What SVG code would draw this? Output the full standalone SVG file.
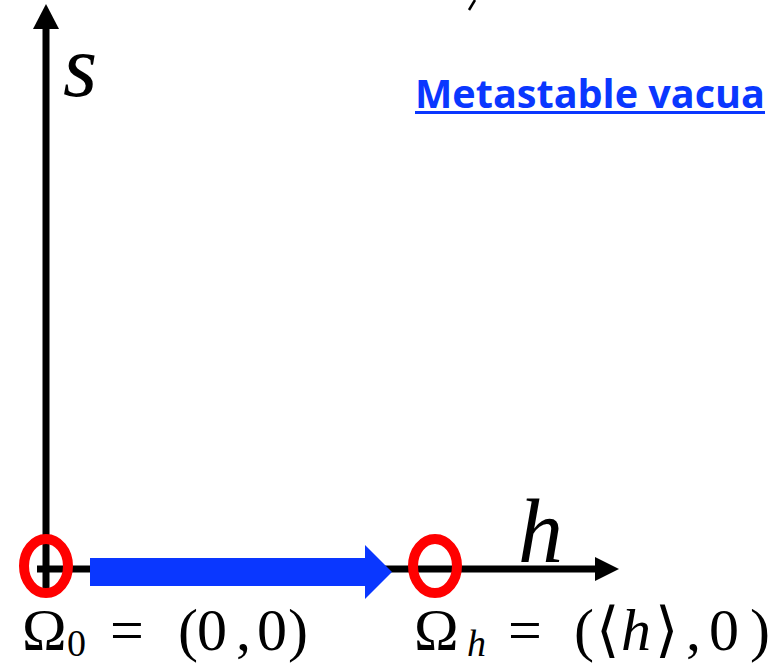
<svg xmlns="http://www.w3.org/2000/svg" width="774" height="666" viewBox="0 0 774 666">
<style>
.ax{stroke:#000;stroke-width:7;fill:none}
.vac{fill:none;stroke:#ff0000;stroke-width:10}
.m{font-family:"Liberation Serif","DejaVu Serif",serif;fill:#000}
.mi{font-family:"Liberation Serif","DejaVu Serif",serif;font-style:italic;fill:#000}
.title{font-family:"Open Sans","Liberation Sans",sans-serif;font-weight:bold;fill:#0a37ff}
</style>
<rect width="774" height="666" fill="#fff"/>
<g id="connectors">
<line class="ax" x1="46" y1="26" x2="46" y2="588"/>
<polygon points="46,4 33,29 59,29" fill="#000"/>
<line class="ax" x1="37" y1="569" x2="598" y2="569"/>
<polygon points="619,569 595,557 595,581" fill="#000"/>
<polygon id="flow" points="90,558 365,558 365,545 392,572 365,599 365,586 90,586" fill="#0a37ff"/>
<line x1="475" y1="0" x2="469" y2="10" stroke="#000" stroke-width="2.5"/>
</g>
<g id="axis-s"><text class="mi" x="63" y="96" font-size="88">s</text></g>
<g id="axis-h"><text class="mi" x="518" y="562" font-size="90">h</text></g>
<g id="vacuum-0">
<ellipse class="vac" cx="46" cy="566" rx="22" ry="27"/>
<text class="m" font-size="60" y="650"><tspan x="22">Ω</tspan><tspan x="67" y="656" font-size="38">0</tspan><tspan x="110" y="650">=</tspan><tspan x="178">(</tspan><tspan x="197">0</tspan><tspan x="236">,</tspan><tspan x="257">0</tspan><tspan x="288">)</tspan></text>
</g>
<g id="vacuum-h">
<ellipse class="vac" cx="435" cy="566" rx="22" ry="27"/>
<text class="m" font-size="60" y="650"><tspan x="414">Ω</tspan><tspan class="mi" x="467" y="656" font-size="38">h</tspan><tspan x="508" y="650">=</tspan><tspan x="574">(</tspan><tspan x="596">⟨</tspan><tspan class="mi" x="621">h</tspan><tspan x="655">⟩</tspan><tspan x="686">,</tspan><tspan x="709">0</tspan><tspan x="750">)</tspan></text>
</g>
<g id="label">
<text class="title" x="415" y="108" font-size="39" textLength="350" lengthAdjust="spacingAndGlyphs">Metastable vacua</text>
<rect x="415" y="111" width="350" height="3" fill="#0a37ff"/>
</g>
</svg>
